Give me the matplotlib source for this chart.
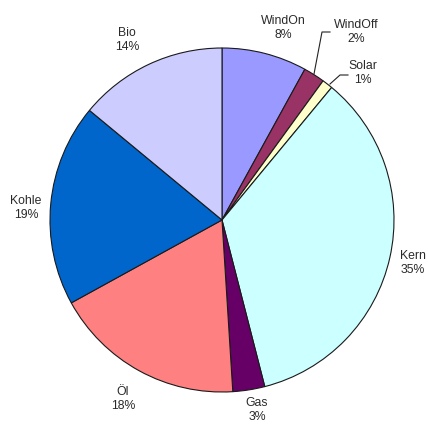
import matplotlib.pyplot as plt

# energy mix shares (percent), clockwise from 12 o'clock
labels = ["WindOn", "WindOff", "Solar", "Kern", "Gas", "Öl", "Kohle", "Bio"]
shares = [8, 2, 1, 35, 3, 18, 19, 14]
colors = ["#9999FF", "#993366", "#FFFFCC", "#CCFFFF", "#660066", "#FF8080", "#0066CC", "#CCCCFF"]

# label positions in pixel coords (x, y from top)
label_pos = [(283, 28), (356, 32), (363, 73), (413, 263), (257, 410), (123, 399), (26, 208), (127, 40)]

H = 425
fig = plt.figure(figsize=(4.28, 4.25), dpi=100)
ax = fig.add_axes([0, 0, 1, 1])

ax.pie(shares, colors=colors, startangle=90, counterclock=False,
       center=(222, H - 220), radius=172,
       wedgeprops=dict(edgecolor="#1a1a1a", linewidth=0.8))

for lab, val, (x, y) in zip(labels, shares, label_pos):
    ax.text(x, H - y, "{}\n{}%".format(lab, val), ha="center", va="center",
            fontsize=8.8, family="Liberation Sans", color="#2a2a2a", linespacing=1.15)

# leader lines for the small slices
ax.plot([330, 322, 314], [H - 32, H - 32, H - 74], color="#222222", lw=0.8)
ax.plot([348, 340, 330], [H - 75, H - 75, H - 84], color="#222222", lw=0.8)

ax.set_xlim(0, 428)
ax.set_ylim(0, H)
ax.set_aspect("equal")
ax.axis("off")

fig.savefig("out.png", dpi=100)
